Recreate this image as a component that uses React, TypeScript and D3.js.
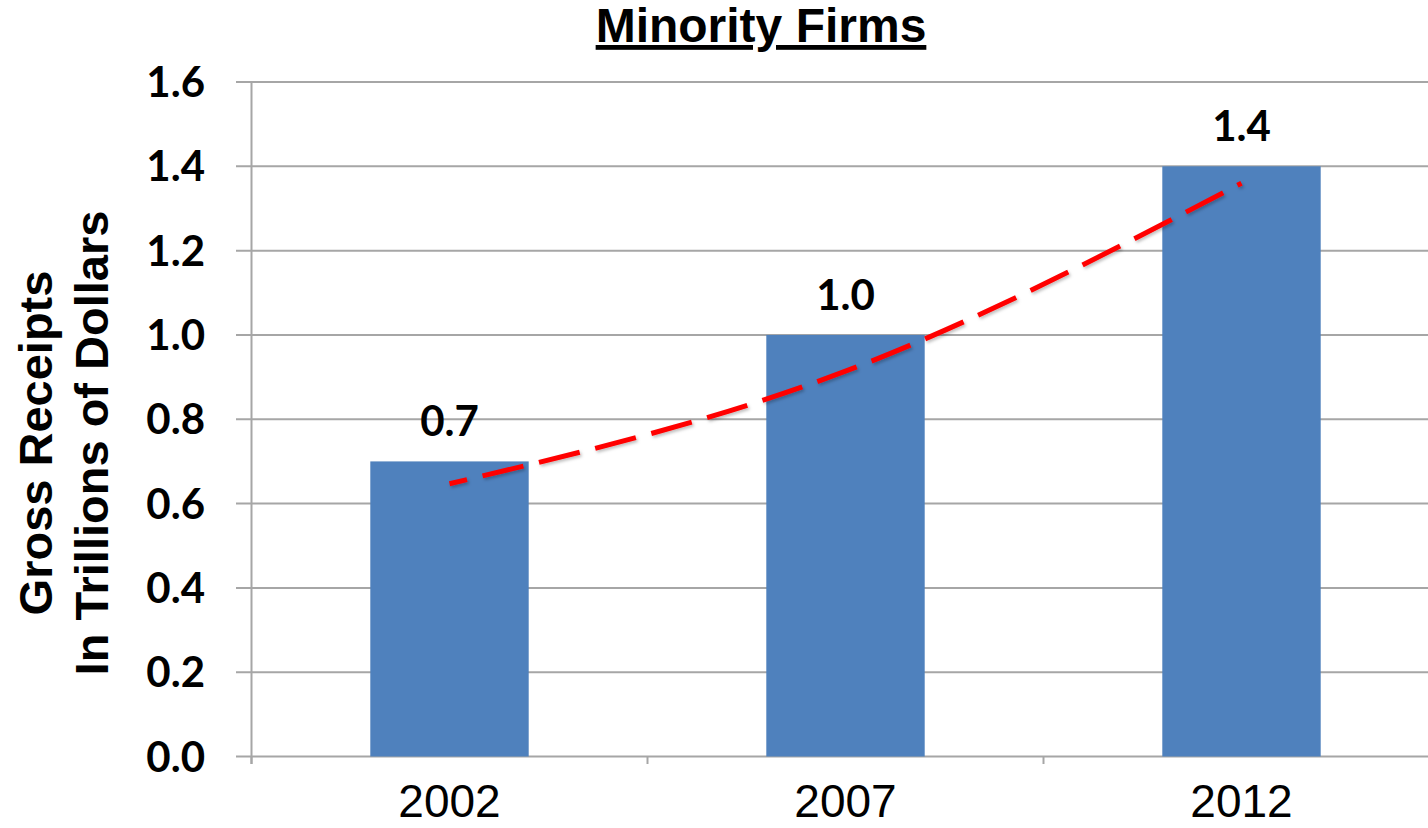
import React from 'react';
import * as d3 from 'd3';

// Chart data
const categories = ['2002', '2007', '2012'];
const receipts = [0.7, 1.0, 1.4];
const valueLabels = ['0.7', '1.0', '1.4'];
// Trendline values at each category
const trendValues = [0.647, 0.914, 1.36];
const yTicks = [0, 0.2, 0.4, 0.6, 0.8, 1.0, 1.2, 1.4, 1.6];

const WIDTH = 1428;
const HEIGHT = 828;

const App = () => {
  const left = 251.5;
  const bandW = 396;
  const x = d3.scaleBand<string>()
    .domain(categories)
    .range([left, left + bandW * categories.length])
    .paddingInner(0.6)
    .paddingOuter(0.3);
  const y = d3.scaleLinear().domain([0, 1.6]).range([756.5, 82]);

  const center = (c: string) => (x(c) as number) + x.bandwidth() / 2;

  const trendLine = d3.line<number>()
    .x((_, i) => center(categories[i]))
    .y(d => y(d))
    .curve(d3.curveNatural);

  const numFont = 'Lato, "Open Sans", sans-serif';
  const arial = '"Liberation Sans", Arial, sans-serif';
  const gridColor = '#a6a6a6';

  // tick positions on x axis: band boundaries
  const xTickPos = d3.range(categories.length + 1).map(i => left + i * bandW);

  return (
    <svg width={WIDTH} height={HEIGHT} style={{ position: 'absolute', left: 0, top: 0, background: '#fff' }}>
      <defs>
        <filter id="shadow" x="-5%" y="-20%" width="110%" height="140%">
          <feDropShadow dx="1.5" dy="2" stdDeviation="1.5" floodColor="#000" floodOpacity="0.25" />
        </filter>
      </defs>

      {/* Title */}
      <text x={761} y={42} textAnchor="middle" fontFamily={arial} fontWeight="bold" fontSize={48}
        textDecoration="underline">Minority Firms</text>

      {/* Gridlines and y ticks */}
      {yTicks.map(t => (
        <g key={t}>
          <line x1={236} x2={WIDTH} y1={y(t)} y2={y(t)} stroke={gridColor} strokeWidth={2} />
          <text x={205} y={y(t)} dy="0.36em" textAnchor="end" fontFamily={numFont} fontWeight="bold"
            fontSize={42}>{t.toFixed(1)}</text>
        </g>
      ))}

      {/* Y axis line */}
      <line x1={left} x2={left} y1={y(1.6)} y2={764} stroke={gridColor} strokeWidth={2} />

      {/* X tick marks */}
      {xTickPos.map(p => (
        <line key={p} x1={p} x2={p} y1={y(0)} y2={764} stroke={gridColor} strokeWidth={2} />
      ))}

      {/* Bars */}
      {categories.map((c, i) => (
        <rect key={c} x={x(c)} y={y(receipts[i])} width={x.bandwidth()} height={y(0) - y(receipts[i])}
          fill="#4f81bd" />
      ))}

      {/* Value labels */}
      {categories.map((c, i) => (
        <text key={c} x={center(c)} y={y(receipts[i]) - 25} textAnchor="middle" fontFamily={numFont}
          fontWeight="bold" fontSize={42}>{valueLabels[i]}</text>
      ))}

      {/* Trendline */}
      <path d={trendLine(trendValues) || ''} fill="none" stroke="#ff0000" strokeWidth={5}
        strokeDasharray="42 16" strokeDashoffset={24} filter="url(#shadow)" />

      {/* X labels */}
      {categories.map(c => (
        <text key={c} x={center(c)} y={817} textAnchor="middle" fontFamily={arial} fontSize={46}>{c}</text>
      ))}

      {/* Y axis title */}
      <g transform="translate(0,443) rotate(-90)">
        <text x={0} y={52} textAnchor="middle" fontFamily={arial} fontWeight="bold" fontSize={47}>Gross Receipts</text>
        <text x={0} y={108} textAnchor="middle" fontFamily={arial} fontWeight="bold" fontSize={47}>In Trillions of Dollars</text>
      </g>
    </svg>
  );
};

export default App;
